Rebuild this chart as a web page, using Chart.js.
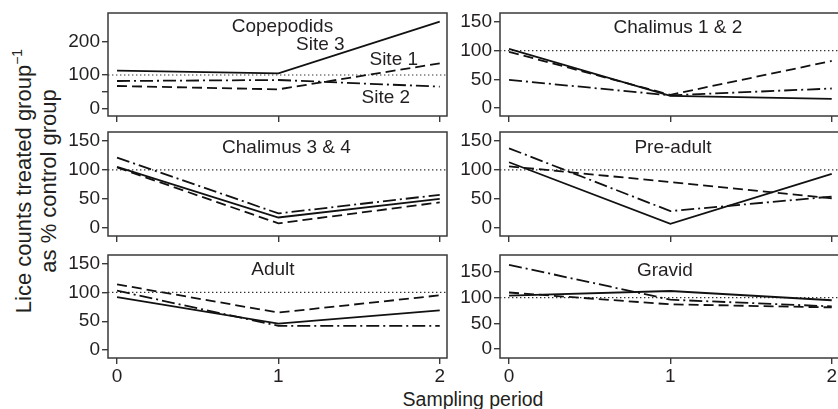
<!DOCTYPE html>
<html><head><meta charset="utf-8">
<script src="https://cdn.jsdelivr.net/npm/chart.js@4/dist/chart.umd.min.js"></script>
<style>
html,body{margin:0;padding:0;background:#fff;width:838px;height:409px;overflow:hidden;position:relative;font-family:"Liberation Sans",Arial,sans-serif;color:#231f20}
canvas{position:absolute}
#ytitle{position:absolute;left:36px;top:181px;transform:translate(-50%,-50%) rotate(-90deg);white-space:nowrap;text-align:center;font-size:22px;line-height:25px}
#ytitle sup{font-size:14px;line-height:0;vertical-align:0;position:relative;top:-9px}
#xtitle{position:absolute;left:373px;width:200px;top:389px;text-align:center;font-size:19.5px;line-height:20px;white-space:nowrap}
</style></head><body>
<div id="ytitle">Lice counts treated group<sup>−1</sup><br>as % control group</div>
<div id="xtitle">Sampling period</div>
<script>
// ---- data ----
const periods = [0, 1, 2];
const xTickLabels = ['0', '1', '2'];
const siteNames = ['Site 1', 'Site 2', 'Site 3'];
const stageNames = ['Copepodids', 'Chalimus 1 & 2', 'Chalimus 3 & 4', 'Pre-adult', 'Adult', 'Gravid'];
const refLevel = 100;

const copeSite1 = [67, 57, 135];
const copeSite2 = [82, 85, 65];
const copeSite3 = [113, 105, 260];

const chal12Site1 = [98, 23, 82];
const chal12Site2 = [49, 22, 34];
const chal12Site3 = [103, 21, 16];

const chal34Site1 = [104, 8, 44];
const chal34Site2 = [121, 25, 57];
const chal34Site3 = [105, 18, 50];

const preSite1 = [106, 79, 51];
const preSite2 = [137, 29, 54];
const preSite3 = [113, 7, 93];

const adultSite1 = [114, 65, 95];
const adultSite2 = [103, 42, 42];
const adultSite3 = [92, 46, 69];

const gravidSite1 = [110, 87, 81];
const gravidSite2 = [164, 96, 83];
const gravidSite3 = [104, 113, 95];

const yTicksCope = [0, 50, 100, 200];
const yTickLabelsCope = ['0', '', '100', '200'];
const yTicksStd = [0, 50, 100, 150];
const yTickLabelsStd = ['0', '50', '100', '150'];

// ---- styling ----
const INK = '#231f20';
const AXIS = '#3a3a3a';
const FONT = '"Liberation Sans", Arial, sans-serif';
const PADL = 64, PADT = 14, PADR = 14, PADB = 36;
const X_MIN = -0.056, X_MAX = 2.045;
const lineStyles = [
  {borderDash: [10, 5], borderWidth: 1.8},
  {borderDash: [13, 4, 2, 4], borderWidth: 1.8},
  {borderDash: [], borderWidth: 1.8}
];

const panelPlugin = {
  id: 'panelDeco',
  beforeDatasetsDraw(chart, args, opts) {
    const {ctx, chartArea: a, scales: {y}} = chart;
    const py = y.getPixelForValue(refLevel);
    ctx.save();
    ctx.beginPath();
    ctx.setLineDash([1.4, 2.6]);
    ctx.lineWidth = 1.2;
    ctx.strokeStyle = '#333';
    ctx.moveTo(a.left, py); ctx.lineTo(a.right, py);
    ctx.stroke();
    ctx.restore();
  },
  afterDatasetsDraw(chart, args, opts) {
    const {ctx, chartArea: a, scales: {x, y}} = chart;
    ctx.save();
    ctx.fillStyle = INK;
    ctx.font = '19px ' + FONT;
    ctx.textAlign = 'center';
    ctx.textBaseline = 'alphabetic';
    (opts.items || []).forEach(it => ctx.fillText(it.text, x.getPixelForValue(it.x), y.getPixelForValue(it.y)));
    ctx.setLineDash([]);
    ctx.strokeStyle = AXIS;
    ctx.lineWidth = 1.5;
    ctx.strokeRect(a.left, a.top, a.right - a.left, a.bottom - a.top);
    ctx.restore();
  }
};

function makePanel(rect, yMin, yMax, yTicks, yLabels, series, showX, items) {
  const c = document.createElement('canvas');
  const W = rect.r - rect.l + PADL + PADR;
  const H = rect.b - rect.t + PADT + PADB;
  c.width = W; c.height = H;
  c.style.left = (rect.l - PADL) + 'px';
  c.style.top = (rect.t - PADT) + 'px';
  c.style.width = W + 'px'; c.style.height = H + 'px';
  document.body.appendChild(c);
  const datasets = series.map((vals, i) => Object.assign({
    label: siteNames[i],
    data: periods.map((p, k) => ({x: p, y: vals[k]})),
    borderColor: '#111',
    pointRadius: 0,
    tension: 0,
    fill: false
  }, lineStyles[i]));
  new Chart(c, {
    type: 'line',
    data: {datasets},
    plugins: [panelPlugin],
    options: {
      responsive: false,
      animation: false,
      devicePixelRatio: 1,
      layout: {padding: {left: 0, top: PADT, right: PADR, bottom: 0}},
      plugins: {legend: {display: false}, tooltip: {enabled: false}, panelDeco: {items}},
      scales: {
        x: {
          type: 'linear', min: X_MIN, max: X_MAX,
          afterBuildTicks: s => { s.ticks = periods.map(v => ({value: v})); },
          afterFit: s => { s.height = PADB; },
          ticks: {display: showX, callback: (v, i) => xTickLabels[i], color: INK, font: {size: 19, family: FONT}, padding: 1, maxRotation: 0},
          grid: {drawOnChartArea: false, drawTicks: true, tickLength: 6, color: AXIS, lineWidth: 1.4},
          border: {display: false}
        },
        y: {
          type: 'linear', min: yMin, max: yMax,
          afterBuildTicks: s => { s.ticks = yTicks.map(v => ({value: v})); },
          afterFit: s => { s.width = PADL; },
          ticks: {callback: (v, i) => yLabels[i], color: INK, font: {size: 19, family: FONT}, padding: 2},
          grid: {drawOnChartArea: false, drawTicks: true, tickLength: 6, color: AXIS, lineWidth: 1.4},
          border: {display: false}
        }
      }
    }
  });
}

const colL = {l: 108, r: 447};
const colR = {l: 500, r: 839};
const rows = [{t: 13, b: 116}, {t: 132, b: 236}, {t: 255, b: 358}];
const R = (col, row) => ({l: col.l, r: col.r, t: row.t, b: row.b});

makePanel(R(colL, rows[0]), -23, 286, yTicksCope, yTickLabelsCope, [copeSite1, copeSite2, copeSite3], false,
  [{text: stageNames[0], x: 1.025, y: 228}, {text: siteNames[2], x: 1.26, y: 175}, {text: siteNames[0], x: 1.715, y: 130}, {text: siteNames[1], x: 1.666, y: 17}]);
makePanel(R(colR, rows[0]), -14, 165.7, yTicksStd, yTickLabelsStd, [chal12Site1, chal12Site2, chal12Site3], false,
  [{text: stageNames[1], x: 1.047, y: 130}]);
makePanel(R(colL, rows[1]), -13.8, 165, yTicksStd, yTickLabelsStd, [chal34Site1, chal34Site2, chal34Site3], false,
  [{text: stageNames[2], x: 1.05, y: 129}]);
makePanel(R(colR, rows[1]), -13.8, 165, yTicksStd, yTickLabelsStd, [preSite1, preSite2, preSite3], false,
  [{text: stageNames[3], x: 1.016, y: 129}]);
makePanel(R(colL, rows[2]), -13.8, 165, yTicksStd, yTickLabelsStd, [adultSite1, adultSite2, adultSite3], true,
  [{text: stageNames[4], x: 0.966, y: 130}]);
makePanel(R(colR, rows[2]), -17.4, 183, yTicksStd, yTickLabelsStd, [gravidSite1, gravidSite2, gravidSite3], true,
  [{text: stageNames[5], x: 0.966, y: 142}]);
</script>
</body></html>
